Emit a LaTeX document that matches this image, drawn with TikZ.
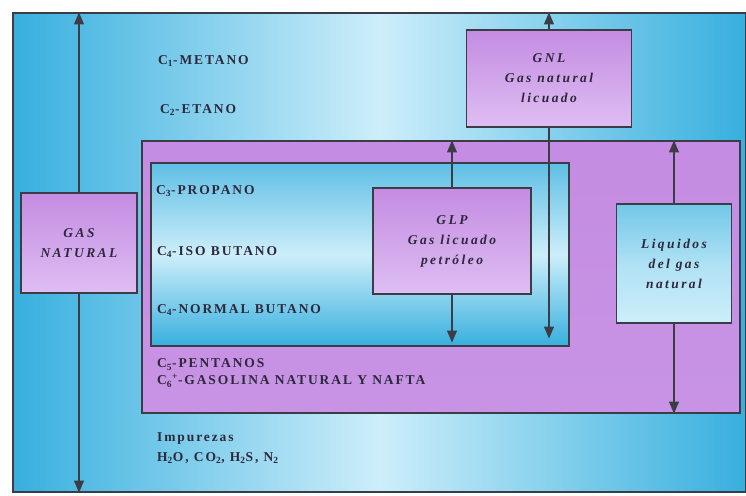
\documentclass[tikz,border=0pt]{standalone}
\usepackage{fontspec}
\setmainfont{Liberation Serif}
\newfontfamily\lblfont[LetterSpace=14]{Liberation Serif}
\newfontfamily\boxfont[LetterSpace=18]{Liberation Serif}
\usetikzlibrary{arrows.meta}
\definecolor{cyanD}{RGB}{55,175,222}
\definecolor{cyanL}{RGB}{205,238,250}
\definecolor{purpD}{RGB}{196,140,226}
\definecolor{purpL}{RGB}{222,190,242}
\definecolor{edge}{RGB}{60,60,70}
\definecolor{ink}{RGB}{45,40,60}
\newcommand{\sbs}[1]{\textsubscript{#1}}
\tikzset{
  x=1pt,y=-1pt,
  region/.style={draw=edge,line width=1.1pt,inner sep=0pt},
  pbox/.style={draw=edge,line width=1.1pt,top color=purpD,bottom color=purpL,
    align=center,font=\boxfont\bfseries\itshape\fontsize{13.5}{20}\selectfont,text=ink},
  cbox/.style={draw=edge,line width=1.1pt,top color=cyanD!70,bottom color=cyanL,middle color=cyanL!80!cyanD,
    align=center,font=\boxfont\bfseries\itshape\fontsize{13.5}{20}\selectfont,text=ink},
  lbl/.style={anchor=west,inner sep=0pt,font=\lblfont\bfseries\fontsize{13.5}{17}\selectfont,text=ink,align=left},
  arr/.style={draw=edge,line width=1.1pt,-{Triangle[width=10pt,length=12pt]}},
}
\begin{document}
\begin{tikzpicture}
\useasboundingbox (0,0) rectangle (746,495);
\fill[white] (0,0) rectangle (746,495);
% outer frame
\shade[left color=cyanD,right color=cyanD,middle color=cyanL] (13,13) rectangle (746,492);
\node[region,minimum width=733pt,minimum height=479pt] (frame) at (379.5,252.5) {};
% purple zone
\node[region,top color=purpD,bottom color=purpD!85!purpL,minimum width=598pt,minimum height=272pt] (liq) at (441,277) {};
% inner cyan zone
\node[region,top color=cyanD!80,bottom color=cyanD,middle color=cyanL,minimum width=418pt,minimum height=183pt] (glpzone) at (360,254.5) {};
% boxes
\node[pbox,minimum width=116pt,minimum height=100pt] (gas) at (79,243) {GAS\\NATURAL};
\node[pbox,minimum width=165pt,minimum height=97pt] (gnl) at (549,78.5) {GNL\\Gas natural\\licuado};
\node[pbox,minimum width=158pt,minimum height=106pt] (glp) at (452,241) {GLP\\Gas licuado\\petróleo};
\node[cbox,minimum width=115pt,minimum height=119pt] (liqbox) at (674,263.5) {Liquidos\\del gas\\natural};
% arrows
\draw[arr] (gas.north) -- (gas.north |- frame.north);
\draw[arr] (gas.south) -- (gas.south |- frame.south);
\draw[arr] (gnl.north) -- (gnl.north |- frame.north);
\draw[arr,shorten >=8pt] (gnl.south) -- (gnl.south |- glpzone.south);
\draw[arr] (glp.north) -- (glp.north |- liq.north);
\draw[arr,shorten >=4pt] (glp.south) -- (glp.south |- glpzone.south);
\draw[arr] (liqbox.north) -- (liqbox.north |- liq.north);
\draw[arr] (liqbox.south) -- (liqbox.south |- liq.south);
% labels
\node[lbl] (t1) at (158,61) {C\sbs{1}-METANO};
\node[lbl] (t2) at (160,110) {C\sbs{2}-ETANO};
\node[lbl] (t3) at (156,191) {C\sbs{3}-PROPANO};
\node[lbl] (t4) at (157,252) {C\sbs{4}-ISO BUTANO};
\node[lbl] (t5) at (157,310) {C\sbs{4}-NORMAL BUTANO};
\node[lbl] (t6) at (157,373) {C\sbs{5}-PENTANOS\\C\sbs{6}\textsuperscript{+}-GASOLINA NATURAL Y NAFTA};
\node[lbl,font=\lblfont\bfseries\fontsize{13.5}{20}\selectfont] (t8) at (157,448) {Impurezas\\H\sbs{2}O, CO\sbs{2}, H\sbs{2}S, N\sbs{2}};
\end{tikzpicture}
\end{document}
